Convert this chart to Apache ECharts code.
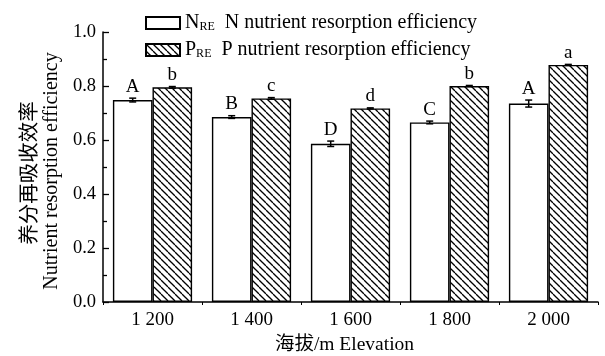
<!DOCTYPE html>
<html>
<head>
<meta charset="utf-8">
<script src="https://cdn.jsdelivr.net/npm/echarts@6/dist/echarts.min.js"></script>
<style>html,body{margin:0;padding:0;background:#fff}#c{width:605px;height:356px}</style>
</head>
<body>
<div id="c"></div>
<script>
var categories = ['1 200', '1 400', '1 600', '1 800', '2 000'];
var nValues = [0.748, 0.685, 0.586, 0.665, 0.735];
var nErrors = [0.007, 0.005, 0.010, 0.005, 0.013];
var nLetters = ['A', 'B', 'D', 'C', 'A'];
var pValues = [0.795, 0.754, 0.717, 0.800, 0.878];
var pErrors = [0.003, 0.003, 0.002, 0.002, 0.002];
var pLetters = ['b', 'c', 'd', 'b', 'a'];
var yTicks = [0, 0.2, 0.4, 0.6, 0.8, 1.0];

var FONT = '"Liberation Serif", "Times New Roman", serif';

function hatch() {
  var s = 7;
  var cv = document.createElement('canvas');
  cv.width = s; cv.height = s;
  var ctx = cv.getContext('2d');
  ctx.fillStyle = '#fff';
  ctx.fillRect(0, 0, s, s);
  ctx.strokeStyle = '#000';
  ctx.lineWidth = 1.3;
  for (var k = -1; k <= 1; k++) {
    ctx.beginPath();
    ctx.moveTo(k * s, 0);
    ctx.lineTo(k * s + s, s);
    ctx.stroke();
  }
  return cv;
}

function errSeries(values, errors, letters, side) {
  var data = values.map(function (v, i) { return [i, v, errors[i]]; });
  return {
    type: 'custom',
    silent: true,
    z: 5,
    data: data,
    renderItem: function (params, api) {
      var i = api.value(0), v = api.value(1), e = api.value(2);
      var band = api.size([1, 0])[0];
      var c = api.coord([i, v]);
      var x = c[0] + side * band * 0.2;
      var top = api.coord([i, v + e])[1];
      var bot = api.coord([i, v - e])[1];
      var hw = 3.5;
      var st = { stroke: '#000', lineWidth: 1.5 };
      return {
        type: 'group',
        children: [
          { type: 'line', shape: { x1: x, y1: top, x2: x, y2: bot }, style: st },
          { type: 'line', shape: { x1: x - hw, y1: top, x2: x + hw, y2: top }, style: st },
          { type: 'line', shape: { x1: x - hw, y1: bot, x2: x + hw, y2: bot }, style: st },
          { type: 'text', style: { text: letters[params.dataIndex], x: x, y: top - 2, textAlign: 'center', textVerticalAlign: 'bottom', fontFamily: FONT, fontSize: 19, fill: '#000' } }
        ]
      };
    }
  };
}

var chart = echarts.init(document.getElementById('c'), null, { renderer: 'canvas' });
var legendText = {
  'NRE': '{m|N}{s|RE}  N nutrient resorption efficiency',
  'PRE': '{m|P}{s|RE}  P nutrient resorption efficiency'
};
chart.setOption({
  animation: false,
  backgroundColor: '#fff',
  grid: { left: 103, right: 7, top: 32, bottom: 54, containLabel: false, outerBoundsMode: 'none' },
  legend: {
    orient: 'vertical',
    left: 140,
    top: 8,
    itemWidth: 34,
    itemHeight: 12,
    itemGap: 7,
    itemTextGap: 9,
    icon: 'rect',
    formatter: function (n) { return legendText[n]; },
    textStyle: {
      fontFamily: FONT, fontSize: 20, color: '#000', lineHeight: 20,
      rich: {
        m: { fontFamily: FONT, fontSize: 20, color: '#000', lineHeight: 20 },
        s: { fontFamily: FONT, fontSize: 12, color: '#000', verticalAlign: 'bottom', lineHeight: 20, padding: [6, 0, 0, 0] }
      }
    },
    data: ['NRE', 'PRE']
  },
  xAxis: {
    type: 'category',
    data: categories,
    name: '海拔/m Elevation',
    nameLocation: 'middle',
    nameGap: 23,
    nameTextStyle: { fontFamily: '"Liberation Serif", "Noto Sans CJK SC", serif', fontSize: 19.5, color: '#000', padding: [0, 12, 0, 0] },
    axisLine: { lineStyle: { color: '#000', width: 1.5 } },
    axisTick: { show: true, inside: false, length: 3, lineStyle: { color: '#000', width: 1 } },
    axisLabel: { fontFamily: FONT, fontSize: 19, color: '#000', margin: 9 }
  },
  yAxis: {
    type: 'value',
    min: 0, max: 1.0, interval: 0.2,
    name: '{cn|养分再吸收效率}\n{en|Nutrient resorption efficiency}',
    nameLocation: 'middle',
    nameGap: 35,
    nameRotate: 90,
    nameTextStyle: {
      rich: {
        cn: { fontFamily: '"Noto Sans CJK SC"', fontSize: 20.5, color: '#000', lineHeight: 22, padding: [0, 12, 0, 0] },
        en: { fontFamily: FONT, fontSize: 20, color: '#000', lineHeight: 25, padding: [0, 8, 0, 0] }
      }
    },
    splitLine: { show: false },
    axisLine: { show: true, lineStyle: { color: '#000', width: 1.5 } },
    axisTick: { show: true, inside: true, length: 6, lineStyle: { color: '#000', width: 1.3 } },
    minorTick: { show: true, splitNumber: 2, length: 4, lineStyle: { color: '#000', width: 1.3 } },
    axisLabel: { fontFamily: FONT, fontSize: 18.5, color: '#000', margin: 7, formatter: function (v) { return v.toFixed(1); } }
  },
  series: [
    { name: 'NRE', type: 'bar', data: nValues, barWidth: '40%', barGap: '0%',
      itemStyle: { color: '#fff', borderColor: '#000', borderWidth: 1.4 } },
    { name: 'PRE', type: 'bar', data: pValues, barWidth: '40%', barGap: '0%',
      itemStyle: { color: { image: hatch(), repeat: 'repeat' }, borderColor: '#000', borderWidth: 1.4 } },
    errSeries(nValues, nErrors, nLetters, -1),
    errSeries(pValues, pErrors, pLetters, 1)
  ]
});
</script>
</body>
</html>
